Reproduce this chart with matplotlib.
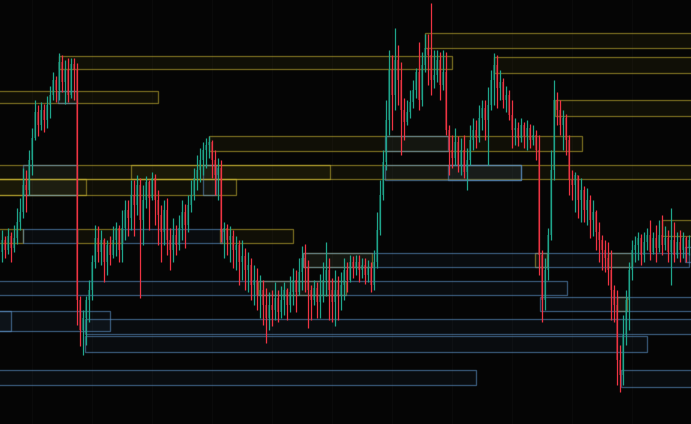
import numpy as np
import matplotlib
matplotlib.use("Agg")
import matplotlib.pyplot as plt
from matplotlib.patches import Rectangle

# candle data (price units), open of each candle = previous close
first_open = 172
closes = [184, 174, 188, 176, 186, 202, 212, 239, 234, 264, 286, 312, 299, 314, 304, 319, 329, 344, 334, 362,
          342, 354, 329, 360, 354, 124, 94, 106, 124, 134, 162, 186, 172, 184, 162, 179, 169, 184, 196, 174,
          196, 214, 206, 229, 219, 239, 204, 224, 242, 226, 246, 224, 209, 192, 214, 184, 174, 189, 179, 196,
          212, 199, 219, 229, 246, 254, 264, 274, 279, 282, 264, 249, 256, 192, 196, 184, 188, 174, 179, 162,
          168, 154, 159, 139, 144, 129, 134, 119, 106, 119, 114, 126, 112, 124, 134, 119, 132, 144, 132, 152,
          166, 156, 134, 124, 136, 122, 128, 144, 154, 134, 122, 134, 129, 139, 154, 144, 162, 156, 162, 154,
          159, 149, 156, 139, 162, 194, 229, 262, 304, 354, 329, 364, 344, 314, 302, 312, 322, 334, 352, 324,
          359, 376, 369, 344, 349, 364, 339, 352, 294, 274, 266, 282, 259, 274, 252, 264, 284, 294, 286, 306,
          316, 304, 319, 344, 359, 336, 342, 324, 329, 309, 294, 296, 286, 299, 288, 296, 284, 289, 274, 169,
          124, 154, 189, 254, 324, 314, 299, 306, 284, 244, 239, 249, 224, 234, 214, 224, 204, 212, 192, 184,
          174, 166, 154, 134, 119, 64, 49, 89, 124, 154, 174, 179, 186, 169, 182, 189, 172, 186, 176, 189,
          179, 186, 172, 184, 169, 182, 174, 186, 176, 184]
highs = [194, 188, 196, 192, 199, 216, 226, 256, 254, 274, 296, 324, 319, 322, 320, 328, 338, 352, 348, 371,
         369, 364, 366, 366, 366, 361, 128, 114, 128, 144, 169, 199, 198, 194, 186, 184, 188, 198, 202, 199,
         214, 224, 224, 244, 244, 249, 246, 239, 248, 244, 252, 250, 234, 219, 224, 226, 196, 206, 199, 209,
         224, 220, 229, 244, 256, 269, 276, 282, 286, 288, 284, 274, 266, 264, 202, 200, 198, 194, 188, 184,
         184, 176, 172, 166, 159, 156, 149, 144, 136, 132, 134, 142, 134, 138, 142, 136, 148, 156, 154, 166,
         178, 180, 164, 139, 144, 142, 150, 162, 182, 166, 146, 154, 148, 152, 166, 162, 169, 168, 169, 169,
         166, 166, 164, 162, 174, 212, 244, 274, 324, 374, 369, 396, 379, 362, 326, 324, 334, 344, 356, 382,
         372, 390, 390, 421, 374, 374, 372, 374, 372, 299, 289, 296, 288, 286, 289, 276, 299, 306, 304, 319,
         324, 324, 337, 354, 371, 369, 354, 346, 338, 334, 324, 306, 302, 306, 302, 304, 300, 299, 294, 289,
         174, 166, 196, 274, 344, 332, 324, 314, 310, 289, 254, 252, 249, 246, 238, 236, 229, 224, 214, 202,
         189, 184, 182, 174, 139, 134, 79, 109, 134, 162, 184, 188, 192, 190, 192, 196, 204, 192, 199, 204,
         209, 198, 194, 216, 202, 192, 194, 192, 188, 189]
lows = [162, 166, 170, 162, 172, 180, 194, 206, 212, 229, 249, 284, 288, 294, 292, 296, 306, 324, 322, 324,
        332, 320, 322, 326, 324, 99, 78, 69, 79, 102, 124, 156, 162, 159, 142, 149, 159, 166, 168, 162,
        162, 184, 188, 194, 188, 209, 126, 179, 216, 194, 224, 199, 179, 162, 179, 169, 154, 162, 169, 174,
        184, 176, 192, 212, 224, 234, 242, 249, 256, 266, 246, 229, 224, 182, 166, 169, 162, 156, 154, 139,
        144, 134, 132, 124, 119, 114, 106, 99, 81, 94, 98, 104, 102, 106, 109, 104, 112, 119, 112, 129,
        134, 132, 96, 104, 119, 106, 106, 122, 128, 104, 102, 98, 104, 114, 124, 132, 142, 146, 149, 142,
        146, 140, 142, 132, 134, 156, 189, 224, 254, 289, 294, 314, 319, 269, 284, 299, 306, 316, 326, 314,
        318, 352, 339, 329, 336, 342, 324, 334, 289, 249, 256, 259, 252, 249, 246, 234, 259, 274, 276, 282,
        294, 284, 259, 314, 319, 316, 324, 316, 312, 304, 276, 279, 278, 282, 276, 274, 276, 279, 264, 149,
        102, 114, 144, 184, 244, 299, 289, 274, 269, 229, 224, 212, 206, 202, 202, 199, 186, 188, 174, 162,
        154, 152, 139, 104, 102, 39, 32, 39, 79, 94, 144, 162, 164, 159, 162, 174, 164, 170, 162, 172,
        169, 174, 162, 139, 162, 166, 162, 166, 162, 169]

# zones: (start candle, end candle, low price, high price)
supply_zones = [
    (19, 150, 355, 368), (-5, 52.2, 321, 333), (141.2, 240, 376, 391), (164, 240, 351, 367),
    (184.5, 240, 308, 324), (69.2, 193.5, 273, 288), (-5, 240, 245, 259), (43, 109.5, 245, 259),
    (-5, 28.2, 229, 245), (-5, 78.2, 229, 245), (72.8, 97.2, 181, 195), (-5, 7.2, 181, 195),
    (25.2, 40.2, 181, 195), (100.5, 123.5, 157, 171),
    (177.8, 181.8, 157, 171), (202.2, 210.2, 157, 171), (85.5, 114.8, 129, 143),
    (205.2, 208.5, 113, 127), (220.2, 240, 188, 204),
]
demand_zones = [
    (7.2, 25.2, 181, 195), (40.2, 73.5, 181, 195), (100.5, 229.2, 157, 171), (-5, 188.5, 129, 143),
    (179.5, 240, 113, 127), (-5, 3.2, 93, 113), (-5, 36.2, 93, 113), (27.8, 240, 90, 105),
    (27.8, 215.2, 72, 88), (-5, 158.2, 39, 54), (206.5, 240, 37, 54), (127.8, 173.2, 244, 259),
    (148.8, 173.2, 244, 259), (127.8, 148.8, 273, 288), (7.2, 25.2, 229, 259), (18.8, 25.2, 321, 333),
    (67.2, 71.5, 229, 259), (227.8, 240, 162, 177),
]

UP = "#1fa58c"
DOWN = "#ee3443"

fig = plt.figure(figsize=(6.91, 4.24), dpi=100)
fig.patch.set_facecolor("#050505")
ax = fig.add_axes([0, 0, 1, 1])
ax.set_facecolor("#050505")

for gx in range(10, 230, 20):
    ax.axvline(gx, color="#0a0a0a", lw=0.8, zorder=0)

for x0, x1, lo, hi in supply_zones:
    ax.add_patch(Rectangle((x0, lo), x1 - x0, hi - lo, facecolor=(0.78, 0.7, 0.12, 0.06),
                           edgecolor=(0.78, 0.7, 0.2, 0.5), lw=1.0, zorder=1))
for x0, x1, lo, hi in demand_zones:
    ax.add_patch(Rectangle((x0, lo), x1 - x0, hi - lo, facecolor=(0.35, 0.55, 0.75, 0.06),
                           edgecolor=(0.35, 0.55, 0.75, 0.55), lw=1.0, zorder=1))

closes = np.array(closes)
opens = np.concatenate([[first_open], closes[:-1]])
highs = np.array(highs)
lows = np.array(lows)
x = np.arange(len(closes))
colors = np.where(closes >= opens, UP, DOWN)

ax.bar(x, np.abs(closes - opens), bottom=np.minimum(opens, closes), width=0.62,
       color=colors, alpha=0.45, linewidth=0, zorder=2)
ax.vlines(x, lows, highs, colors=colors, lw=0.9, zorder=3)

ax.set_xlim(-0.5, 229.83)
ax.set_ylim(0, 424)
ax.axis("off")

fig.savefig("out.png", dpi=100, facecolor=fig.get_facecolor())
